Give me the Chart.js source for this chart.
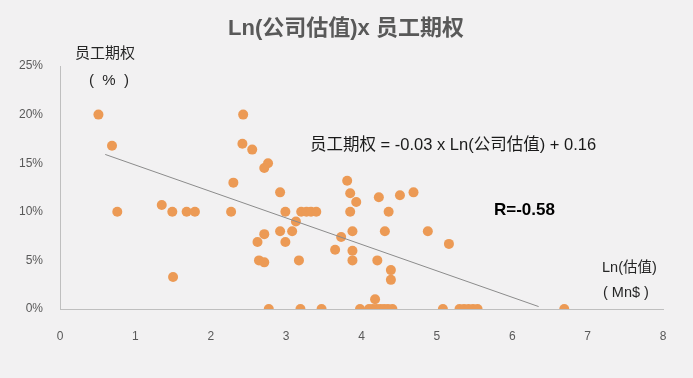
<!DOCTYPE html>
<html>
<head>
<meta charset="utf-8">
<script src="https://cdn.jsdelivr.net/npm/chart.js@4/dist/chart.umd.min.js"></script>
<style>
  html, body { margin: 0; padding: 0; background: #f2f1f2; }
  #wrap { width: 693px; height: 378px; position: relative; }
</style>
</head>
<body>
<div id="wrap"><canvas id="chart" width="693" height="378"></canvas></div>
<script>
// Ln(valuation) vs employee option pool (%)
const lnValuation = [
  0.51, 0.69, 0.76, 1.35, 1.49, 1.68, 1.79, 1.50, 2.27, 2.30,
  2.43, 2.42, 2.55, 2.76, 2.71, 2.92, 2.99, 3.13, 2.71, 2.62,
  2.92, 3.08, 2.99, 2.64, 2.71, 3.17, 2.77, 3.19, 3.20, 3.27,
  3.33, 3.40, 3.47, 3.81, 3.85, 3.93, 3.85, 3.88, 3.73, 3.65,
  3.88, 3.88, 3.98, 4.10, 4.15, 4.20, 4.25, 4.30, 4.35, 4.41,
  4.18, 4.23, 4.36, 4.31, 4.21, 4.39, 4.39, 4.51, 4.69, 4.88,
  5.16, 5.08, 5.30, 5.36, 5.42, 5.48, 5.54, 6.69
];
const optionPct = [
  20.0, 16.8, 10.0, 10.7, 10.0, 10.0, 10.0, 3.3, 10.0, 13.0,
  20.0, 17.0, 16.4, 15.0, 14.5, 12.0, 10.0, 9.0, 7.7, 6.9,
  8.0, 8.0, 6.9, 5.0, 4.8, 5.0, 0, 0, 10.0, 10.0,
  10.0, 10.0, 0, 13.2, 11.9, 11.0, 10.0, 8.0, 7.4, 6.1,
  6.0, 5.0, 0, 0, 0, 0, 0, 0, 0, 0,
  1.0, 11.5, 10.0, 8.0, 5.0, 4.0, 3.0, 11.7, 12.0, 8.0,
  6.7, 0, 0, 0, 0, 0, 0, 0
];

// fitted trend line end points
const trendX = [0.6, 6.35];
const trendY = [15.9, 0.25];

const xTicks = [0, 1, 2, 3, 4, 5, 6, 7, 8];
const yTicks = [0, 5, 10, 15, 20, 25];

const LATIN = '"Liberation Sans", "Noto Sans CJK SC", sans-serif';

const points = lnValuation.map((x, i) => ({ x: x, y: optionPct[i] }));
const trend = trendX.map((x, i) => ({ x: x, y: trendY[i] }));

// title, axis captions, equation and R value
const labelsPlugin = {
  id: 'labels',
  beforeDraw(chart) {
    const c = chart.ctx;
    c.save();
    c.fillStyle = '#f2f1f2';
    c.fillRect(0, 0, chart.width, chart.height);
    c.restore();
  },
  afterDraw(chart) {
    const c = chart.ctx;
    c.save();
    c.textBaseline = 'middle';

    c.fillStyle = '#595959';
    c.font = 'bold 22px ' + LATIN;
    c.textAlign = 'center';
    c.fillText('Ln(公司估值)x 员工期权', 346, 29);

    c.fillStyle = '#262626';
    c.font = '15px ' + LATIN;
    c.textAlign = 'left';
    c.fillText('员工期权', 75, 54);
    c.fillText('(  %  )', 89, 81);

    c.font = '14.5px ' + LATIN;
    c.fillText('Ln(估值)', 602, 268);
    c.fillText('( Mn$ )', 603, 293);

    c.fillStyle = '#1a1a1a';
    c.font = '16.5px ' + LATIN;
    c.fillText('员工期权 = -0.03 x Ln(公司估值) + 0.16', 310, 145);

    c.fillStyle = '#000000';
    c.font = 'bold 17px ' + LATIN;
    c.fillText('R=-0.58', 494, 210);
    c.restore();
  }
};

new Chart(document.getElementById('chart'), {
  type: 'scatter',
  data: {
    datasets: [
      {
        type: 'line',
        data: trend,
        borderColor: '#8c8c8c',
        borderWidth: 1,
        pointRadius: 0,
        fill: false,
        order: 0
      },
      {
        data: points,
        backgroundColor: '#ec9a55',
        borderColor: '#ec9a55',
        borderWidth: 0,
        pointRadius: 5,
        order: 1
      }
    ]
  },
  options: {
    responsive: false,
    animation: false,
    layout: { padding: { top: 66, right: 30, left: 0, bottom: 0 } },
    plugins: {
      legend: { display: false },
      tooltip: { enabled: false }
    },
    scales: {
      x: {
        type: 'linear',
        min: 0,
        max: 8,
        afterBuildTicks: s => { s.ticks = xTicks.map(v => ({ value: v })); },
        afterFit: s => { s.height = 69; },
        grid: { display: false, drawTicks: false },
        border: { display: true, color: '#bfbfbf', width: 1 },
        ticks: { color: '#595959', font: { size: 12, family: LATIN }, padding: 20 }
      },
      y: {
        type: 'linear',
        min: 0,
        max: 25,
        afterBuildTicks: s => { s.ticks = yTicks.map(v => ({ value: v })); },
        afterFit: s => { s.width = 60; },
        grid: { display: false, drawTicks: false },
        border: { display: true, color: '#bfbfbf', width: 1 },
        ticks: {
          color: '#595959',
          font: { size: 12, family: LATIN },
          padding: 17,
          callback: v => v + '%'
        }
      }
    }
  },
  plugins: [labelsPlugin]
});
</script>
</body>
</html>
